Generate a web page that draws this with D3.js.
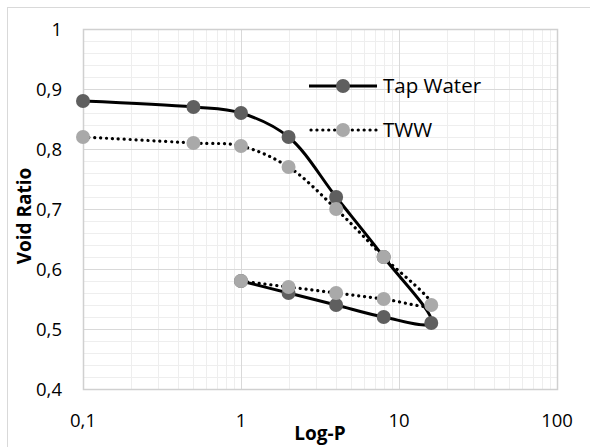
<!DOCTYPE html>
<html><head><meta charset="utf-8">
<script src="https://cdn.jsdelivr.net/npm/d3@7"></script>
<style>
html,body{margin:0;padding:0;background:#fff;}
svg{display:block;}
text{font-family:"Open Sans",sans-serif;fill:#000;}
</style></head>
<body>
<script>
const pressure = [0.1, 0.5, 1, 2, 4, 8, 16, 8, 4, 2, 1];
const tapWater = [0.88, 0.87, 0.86, 0.82, 0.72, 0.62, 0.51, 0.52, 0.54, 0.56, 0.58];
const tww = [0.82, 0.81, 0.805, 0.77, 0.70, 0.62, 0.54, 0.55, 0.56, 0.57, 0.58];
const seriesNames = ["Tap Water", "TWW"];
const xTicks = [0.1, 1, 10, 100];
const xTickLabels = ["0,1", "1", "10", "100"];
const yTicks = [0.4, 0.5, 0.6, 0.7, 0.8, 0.9, 1];
const yTickLabels = ["0,4", "0,5", "0,6", "0,7", "0,8", "0,9", "1"];

const W = 590, H = 447;
const L = 83, R = 557, T = 29, B = 389;
const svg = d3.select("body").append("svg").attr("width", W).attr("height", H);

svg.append("rect").attr("x", 7.5).attr("y", 7.5).attr("width", 700).attr("height", 600)
  .attr("fill", "#fff").attr("stroke", "#d9d9d9").attr("stroke-width", 1);

const x = d3.scaleLog().domain([0.1, 100]).range([L, R]);
const y = d3.scaleLinear().domain([0.4, 1]).range([B, T]);

const g = svg.append("g");
// minor grid
const minorX = [];
[0.1, 1, 10].forEach(d => { for (let k = 2; k <= 9; k++) minorX.push(d * k); });
g.selectAll(".mx").data(minorX).enter().append("line")
  .attr("x1", d => Math.round(x(d)) + 0.5).attr("x2", d => Math.round(x(d)) + 0.5)
  .attr("y1", T).attr("y2", B).attr("stroke", "#eeeeee").attr("stroke-width", 1);
const minorY = d3.range(0, 31).map(i => 0.4 + i * 0.02).filter((d, i) => i % 5 !== 0);
g.selectAll(".my").data(minorY).enter().append("line")
  .attr("y1", d => Math.round(y(d)) + 0.5).attr("y2", d => Math.round(y(d)) + 0.5)
  .attr("x1", L).attr("x2", R).attr("stroke", "#eeeeee").attr("stroke-width", 1);
// major grid
g.selectAll(".Mx").data(xTicks).enter().append("line")
  .attr("x1", d => Math.round(x(d)) + 0.5).attr("x2", d => Math.round(x(d)) + 0.5)
  .attr("y1", T).attr("y2", B).attr("stroke", "#d9d9d9").attr("stroke-width", 1);
g.selectAll(".My").data(yTicks).enter().append("line")
  .attr("y1", d => Math.round(y(d)) + 0.5).attr("y2", d => Math.round(y(d)) + 0.5)
  .attr("x1", L).attr("x2", R).attr("stroke", "#d9d9d9").attr("stroke-width", 1);
// plot border
svg.append("rect").attr("x", L + 0.5).attr("y", T + 0.5).attr("width", R - L).attr("height", B - T)
  .attr("fill", "none").attr("stroke", "#d0d0d0").attr("stroke-width", 1.5);

// axes labels
svg.selectAll(".yl").data(yTicks).enter().append("text")
  .attr("x", 62).attr("y", d => y(d)).attr("dy", "0.36em")
  .attr("text-anchor", "end").style("font-size", "18.5px")
  .text((d, i) => yTickLabels[i]);
svg.selectAll(".xl").data(xTicks).enter().append("text")
  .attr("x", d => x(d)).attr("y", 426.5)
  .attr("text-anchor", "middle").style("font-size", "18.5px")
  .text((d, i) => xTickLabels[i]);

svg.append("text").attr("x", 320).attr("y", 440).attr("text-anchor", "middle")
  .style("font-size", "19px").style("font-weight", "bold").text("Log-P");
svg.append("text").attr("transform", "translate(31,216) rotate(-90)").attr("text-anchor", "middle")
  .style("font-size", "19px").style("font-weight", "bold").text("Void Ratio");

const line = d3.line().x(d => x(d[0])).y(d => y(d[1])).curve(d3.curveCatmullRom.alpha(0.5));
const styles = [
  {vals: tapWater, color: "#5f5f5f", dash: null},
  {vals: tww, color: "#a9a9a9", dash: "0.1,5.8"}
];
styles.forEach((s, si) => {
  const pts = pressure.map((p, i) => [p, s.vals[i]]);
  const path = svg.append("path").datum(pts).attr("d", line).attr("fill", "none")
    .attr("stroke", "#000").attr("stroke-width", 3);
  if (s.dash) path.attr("stroke-dasharray", s.dash).attr("stroke-linecap", "round").attr("stroke-width", 3.2);
  svg.selectAll(".m" + si).data(pts).enter().append("circle")
    .attr("cx", d => x(d[0])).attr("cy", d => y(d[1])).attr("r", 7).attr("fill", s.color);
});

// legend
const legY = [86, 130];
styles.forEach((s, si) => {
  const ly = legY[si];
  const l = svg.append("line").attr("x1", 309).attr("x2", 377).attr("y1", ly).attr("y2", ly)
    .attr("stroke", "#000").attr("stroke-width", 3);
  if (s.dash) l.attr("stroke-dasharray", s.dash).attr("stroke-linecap", "round").attr("stroke-width", 3.2).attr("x1", 311);
  svg.append("circle").attr("cx", 343).attr("cy", ly).attr("r", 7).attr("fill", s.color);
  svg.append("text").attr("x", 383).attr("y", ly).attr("dy", "0.36em").style("font-size", "20.5px").text(seriesNames[si]);
});
</script>
</body></html>
